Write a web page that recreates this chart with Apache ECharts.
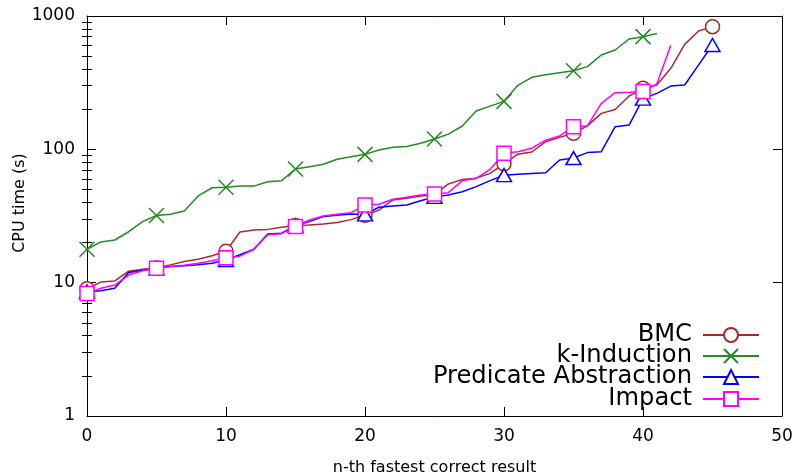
<!DOCTYPE html>
<html>
<head>
<meta charset="utf-8">
<script src="https://cdn.jsdelivr.net/npm/echarts@6/dist/echarts.min.js"></script>
<style>html,body{margin:0;padding:0;background:#fff}#c{width:798px;height:475px}</style>
</head>
<body>
<div id="c"></div>
<script>
var seriesNames = ['BMC', 'k-Induction', 'Predicate Abstraction', 'Impact'];
var xTicks = [0, 10, 20, 30, 40, 50];
var yTicks = [1, 10, 100, 1000];
var yMinorTicks = [2,3,4,5,6,7,8,9,20,30,40,50,60,70,80,90,200,300,400,500,600,700,800,900];

var bmc = [9.0, 10.1, 10.3, 12.2, 12.6, 12.9, 13.6, 14.4, 15.0, 15.9, 17.2, 24.0, 24.8, 25.1, 26.0, 26.8, 27.1, 27.5, 28.3, 29.7, 32.0, 35.0, 41.7, 42.9, 44.7, 45.5, 55, 59.5, 60.8, 66, 78, 92, 95.5, 114, 123, 132, 150, 186, 199, 251, 287, 304, 405, 613, 772, 832];
var kInduction = [17.8, 20.2, 20.9, 24.1, 28.7, 31.9, 32.6, 34.5, 44.7, 51.5, 51.9, 53.1, 53, 57.2, 58.2, 71.2, 74.1, 77.3, 84.2, 88, 91.7, 98.9, 103.5, 105, 111, 119.6, 130, 149.6, 194, 211, 229, 302, 347, 363, 376, 389, 417, 510, 556, 672, 700, 740];
var predAbs = [8.56, 8.7, 9.07, 11.9, 12.4, 12.8, 13.2, 13.4, 13.6, 14.0, 14.8, 16.2, 17.8, 23.2, 23.5, 26.8, 28.7, 31.3, 32, 32.7, 32.5, 36.8, 37.6, 38.2, 41.2, 44, 45.5, 48.1, 52.5, 58.2, 64, 65, 66, 66.8, 83.2, 86, 94.5, 96, 148, 152, 240, 263, 298, 304, 430, 606];
var impact = [8.3, 9.07, 9.6, 11.4, 12.3, 12.8, 13.2, 13.5, 14.0, 14.6, 15.4, 15.8, 17.8, 22.9, 23.3, 26.4, 29.5, 31.6, 32.6, 33.5, 38.2, 38.7, 42.2, 43.7, 45.5, 46.2, 47.3, 58.2, 60.6, 70.8, 93.4, 96, 102, 117, 126, 148, 150, 221, 266, 268, 271, 310, 604];

var values = [bmc, kInduction, predAbs, impact];
var colors = ['#a52a2a', '#228b22', '#0000ff', '#ff00ff'];
var symbols = ['circle', 'path://M0,0L10,10M10,0L0,10', 'triangle', 'rect'];
var symSizes = [14, 15, [15, 13], 14];
var legendCenters = [336, 357, 378, 400];
var FONT = 'DejaVu Sans';

function buildData(arr) {
  return arr.map(function (v, i) {
    var item = { value: [i, v] };
    if (i % 5 !== 0) item.symbol = 'none';
    return item;
  });
}

var series = seriesNames.map(function (name, k) {
  return {
    name: name,
    type: 'line',
    xAxisIndex: 0,
    yAxisIndex: 0,
    data: buildData(values[k]),
    symbol: symbols[k],
    symbolSize: symSizes[k],
    showAllSymbol: true,
    animation: false,
    lineStyle: { color: colors[k], width: 1.5 },
    itemStyle: { color: '#fff', borderColor: colors[k], borderWidth: 1.5 },
    emphasis: { disabled: true }
  };
});

var legends = seriesNames.map(function (name, k) {
  return {
    data: [name],
    right: 38,
    top: legendCenters[k] - 13,
    orient: 'horizontal',
    align: 'right',
    padding: 0,
    itemWidth: 56,
    itemHeight: 17.5,
    selectedMode: false,
    textStyle: { fontSize: 24.2, fontFamily: FONT, color: '#000', padding: [0, 6, 0, 0] }
  };
});

function yAxisBase(pos, withLabel) {
  return {
    type: 'log', logBase: 10, min: 1, max: 1000, position: pos,
    axisLine: { show: true, onZero: false, lineStyle: { color: '#000', width: 1 } },
    axisTick: { show: true, inside: true, length: 9, lineStyle: { color: '#000' } },
    axisLabel: { show: withLabel, fontSize: 17, fontFamily: FONT, color: '#000', margin: 12,
                 formatter: function (v) { return String(v); } },
    splitLine: { show: false }
  };
}
function yMinorAxis(pos) {
  return {
    type: 'log', logBase: 10, min: 1, max: 1000, position: pos,
    axisLine: { show: false },
    axisTick: { show: true, inside: true, length: 5, lineStyle: { color: '#000' }, customValues: yMinorTicks },
    axisLabel: { show: false },
    splitLine: { show: false }
  };
}

var yLeft = yAxisBase('left', true);
yLeft.axisLabel.customValues = yTicks;
yLeft.axisTick.customValues = yTicks;
var yRight = yAxisBase('right', false);
yRight.axisTick.customValues = yTicks;

var option = {
  backgroundColor: '#fff',
  animation: false,
  grid: { left: 87, right: 16, top: 16, bottom: 59, containLabel: false, outerBoundsMode: 'none', show: false },
  legend: legends,
  graphic: [{
    type: 'text', x: 20, y: 203, rotation: Math.PI / 2,
    style: { text: 'CPU time (s)', fontSize: 16, fontFamily: FONT, fill: '#000', align: 'center', verticalAlign: 'middle' }
  }],
  xAxis: [
    {
      type: 'value', min: 0, max: 50, interval: 10, position: 'bottom',
      name: 'n-th fastest correct result', nameLocation: 'middle', nameGap: 44,
      nameTextStyle: { fontSize: 16, fontFamily: FONT, color: '#000' },
      axisLine: { show: true, onZero: false, lineStyle: { color: '#000', width: 1 } },
      axisTick: { show: true, inside: true, length: 9, lineStyle: { color: '#000' } },
      axisLabel: { fontSize: 17, fontFamily: FONT, color: '#000', margin: 12, customValues: xTicks },
      splitLine: { show: false }
    },
    {
      type: 'value', min: 0, max: 50, interval: 10, position: 'top',
      axisLine: { show: true, onZero: false, lineStyle: { color: '#000', width: 1 } },
      axisTick: { show: true, inside: true, length: 9, lineStyle: { color: '#000' } },
      axisLabel: { show: false },
      splitLine: { show: false }
    }
  ],
  yAxis: [yLeft, yRight, yMinorAxis('left'), yMinorAxis('right')],
  series: series
};

var chart = echarts.init(document.getElementById('c'), null, { renderer: 'canvas' });
chart.setOption(option);
</script>
</body>
</html>
